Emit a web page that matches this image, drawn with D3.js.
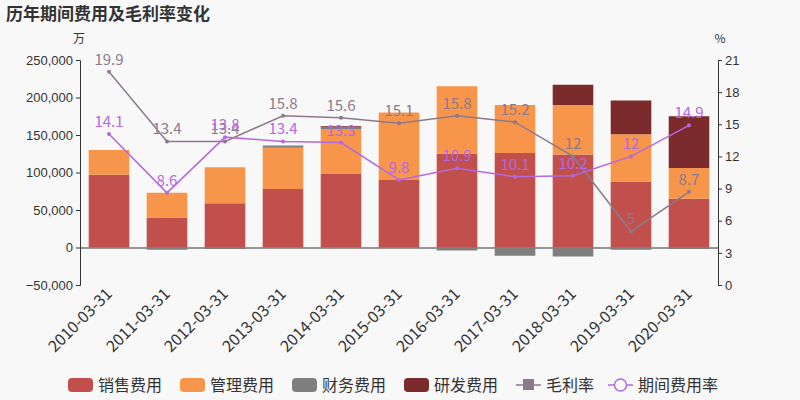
<!DOCTYPE html>
<html><head><meta charset="utf-8">
<script src="https://cdn.jsdelivr.net/npm/d3@7"></script>
<style>body{margin:0;background:#f8f8f8;font-family:"Noto Sans CJK SC","DejaVu Sans",sans-serif}</style>
</head><body><div id="chart"></div>
<script>
const years = ["2010-03-31","2011-03-31","2012-03-31","2013-03-31","2014-03-31","2015-03-31","2016-03-31","2017-03-31","2018-03-31","2019-03-31","2020-03-31"];
const sales = [97000,40000,59000,78000,98000,90000,125000,126000,124000,88000,65000];
const admin = [33000,33000,48000,55000,60000,90000,90000,64000,66000,63000,41000];
const finance = [0,-3000,-2000,3000,3000,0,-4000,-11000,-12000,-3000,-2000];
const rd = [0,0,0,0,1000,0,0,0,27000,45000,69000];
const grossMargin = [19.9,13.4,13.4,15.8,15.6,15.1,15.8,15.2,12,5,8.7];
const periodRate = [14.1,8.6,13.8,13.4,13.3,9.8,10.9,10.1,10.2,12,14.9];
const leftTicks = [-50000,0,50000,100000,150000,200000,250000];
const rightTicks = [0,3,6,9,12,15,18,21];

const W=800,H=400,L=80,R=718,T=60,B=285;
const svg=d3.select("#chart").append("svg").attr("width",W).attr("height",H);
svg.append("rect").attr("width",W).attr("height",H).attr("fill","#f8f8f8");
svg.append("text").attr("x",6).attr("y",20).text("历年期间费用及毛利率变化")
  .attr("font-size",17).attr("font-weight","bold").attr("fill","#333");

const x=d3.scaleBand().domain(years).range([L,R]).paddingInner(0.3).paddingOuter(0.15);
const y=d3.scaleLinear().domain([-50000,250000]).range([B,T]);
const y2=d3.scaleLinear().domain([0,21]).range([B,T]);

const fmt=d3.format(",");
const gl=svg.append("g").attr("transform",`translate(${L},0)`)
  .call(d3.axisLeft(y).tickValues(leftTicks).tickFormat(fmt).tickSize(4));
const gr=svg.append("g").attr("transform",`translate(${R},0)`)
  .call(d3.axisRight(y2).tickValues(rightTicks).tickSize(4));
[gl,gr].forEach(g=>{g.selectAll("text").attr("font-size",13).attr("fill","#333");
  g.selectAll("line,path").attr("stroke","#333");});
svg.append("text").attr("x",79).attr("y",43).text("万").attr("font-size",12).attr("text-anchor","middle").attr("fill","#333");
svg.append("text").attr("x",720).attr("y",43).text("%").attr("font-size",12).attr("text-anchor","middle").attr("fill","#333");

const gx=svg.append("g").attr("transform",`translate(0,${y(0)})`).call(d3.axisBottom(x).tickSize(0).tickFormat(""));
gx.select("path").attr("stroke","#333");
years.forEach(yr=>{
  svg.append("text").attr("transform",`translate(${x(yr)+x.bandwidth()/2+4},${B+10}) rotate(-45)`)
    .attr("text-anchor","end").attr("font-size",16).attr("fill","#333").text(yr);
});

const cols={sales:"#c1504d",admin:"#f7964a",finance:"#7f7f7f",rd:"#7b2b2b"};
years.forEach((yr,i)=>{
  let pos=0,neg=0;
  [["sales",sales[i]],["admin",admin[i]],["finance",finance[i]],["rd",rd[i]]].forEach(([k,v])=>{
    if(!v)return;
    let y0,y1;
    if(v>0){y0=pos;y1=pos+v;pos=y1;}else{y0=neg;y1=neg+v;neg=y1;}
    svg.append("rect").attr("x",x(yr)).attr("width",x.bandwidth())
      .attr("y",y(Math.max(y0,y1))).attr("height",Math.abs(y(y0)-y(y1))).attr("fill",cols[k]);
  });
});

const cx=d=>x(d)+x.bandwidth()/2;
function series(vals,color){
  svg.append("path").datum(vals).attr("fill","none").attr("stroke",color).attr("stroke-width",1.5)
    .attr("d",d3.line().x((d,i)=>cx(years[i])).y(d=>y2(d)));
  vals.forEach((v,i)=>{
    svg.append("circle").attr("cx",cx(years[i])).attr("cy",y2(v)).attr("r",2).attr("fill",color);
    svg.append("text").attr("x",cx(years[i])).attr("y",y2(v)-7).attr("text-anchor","middle")
      .attr("font-size",15).attr("fill",color).text(v);
  });
}
series(grossMargin,"#8c7a8c");
series(periodRate,"#b368e0");

const items=[["销售费用",cols.sales,"rect"],["管理费用",cols.admin,"rect"],["财务费用",cols.finance,"rect"],["研发费用",cols.rd,"rect"],["毛利率","#8c7a8c","sq"],["期间费用率","#b368e0","circ"]];
const widths=[112,112,112,112,92,110];
let lx=68;
items.forEach(([n,c,t],i)=>{
  const g=svg.append("g").attr("transform",`translate(${lx},385)`);
  if(t==="rect") g.append("rect").attr("x",0).attr("y",-7).attr("width",25).attr("height",14).attr("rx",4).attr("fill",c);
  else{
    g.append("line").attr("x1",0).attr("x2",25).attr("stroke",c).attr("stroke-width",1.5);
    if(t==="sq") g.append("rect").attr("x",7).attr("y",-6).attr("width",11).attr("height",11).attr("fill",c);
    else g.append("circle").attr("cx",12.5).attr("r",6).attr("fill","#fff").attr("stroke",c).attr("stroke-width",1.5);
  }
  g.append("text").attr("x",30).attr("y",6).attr("font-size",16).attr("fill","#333").text(n);
  lx+=widths[i];
});
</script></body></html>
